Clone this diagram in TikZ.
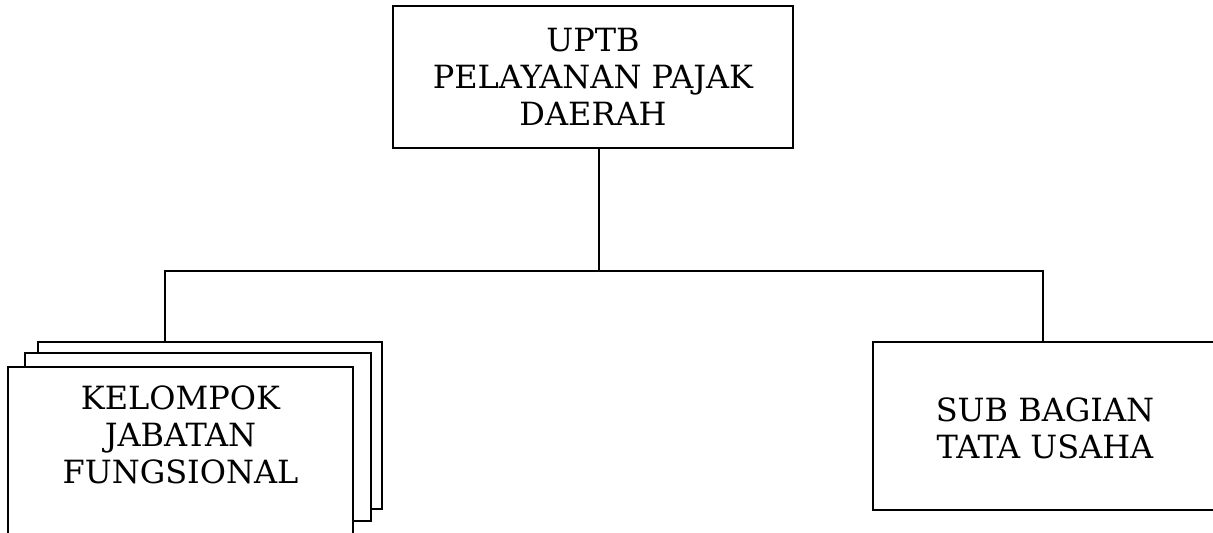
\documentclass[tikz,border=0pt]{standalone}
\usepackage{fontspec}
\setmainfont{DejaVu Serif}
\begin{document}
\begin{tikzpicture}[x=0.02cm,y=-0.02cm,
  box/.style={draw=black,fill=white,line width=1.15pt,rectangle,inner sep=0pt},
  lbl/.style={align=center,inner sep=0pt,font=\fontsize{18.2}{21}\selectfont},
  conn/.style={draw=black,line width=1.15pt}]
\useasboundingbox (0,0) rectangle (1213,532);
\clip (0,0) rectangle (1213,532);
\fill[white] (0,0) rectangle (1213,532);
% top box
\node[box,minimum width=8cm,minimum height=2.84cm] (top) at (593,77) {};
\node[lbl] (toptext) at (593,77) {UPTB\\PELAYANAN PAJAK\\DAERAH};
% stacked boxes
\node[box,minimum width=6.88cm,minimum height=3.34cm] (back) at (210,425.5) {};
\node[box,minimum width=6.92cm,minimum height=3.36cm] (mid) at (198,437) {};
\node[box,minimum width=6.9cm,minimum height=3.38cm] (front) at (180.5,451.5) {};
\node[lbl] (fronttext) at (180.5,435) {KELOMPOK\\JABATAN\\FUNGSIONAL};
% right box
\node[box,minimum width=6.88cm,minimum height=3.36cm] (right) at (1045,426) {};
\node[lbl] (righttext) at (1045,428) {SUB BAGIAN\\TATA USAHA};
% connectors
\coordinate (jl) at (165,271);
\coordinate (jr) at (1043,271);
\coordinate (jm) at (599,271);
\draw[conn] (jm |- top.south) -- (jm);
\draw[conn,line cap=rect] (jl) -- (jr);
\draw[conn] (jl) -- (jl |- back.north);
\draw[conn] (jr) -- (jr |- right.north);
\end{tikzpicture}
\end{document}
